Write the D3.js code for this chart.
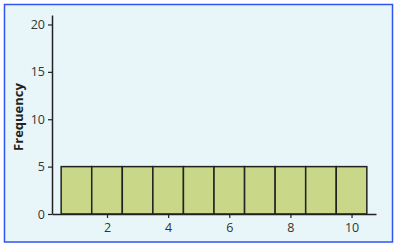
<!DOCTYPE html>
<html>
<head>
<meta charset="utf-8">
<script src="https://cdn.jsdelivr.net/npm/d3@7"></script>
<style>
  body { margin: 0; background: #fff; }
  svg text { font-family: "Open Sans", "DejaVu Sans", sans-serif; }
</style>
</head>
<body>
<div id="chart"></div>
<script>
(function () {
    const width = 400;
    const height = 251;

    // Data: histogram bins (value centres) and their counts
    const binCentres = [1, 2, 3, 4, 5, 6, 7, 8, 9, 10];
    const counts = [5, 5, 5, 5, 5, 5, 5, 5, 5, 5];
    const xTicks = [2, 4, 6, 8, 10];
    const yTicks = [0, 5, 10, 15, 20];

    const svg = d3.select("#chart")
        .append("svg")
        .attr("width", width)
        .attr("height", height);

    // Panel background with blue frame
    svg.append("rect")
        .attr("x", 4.5)
        .attr("y", 4.5)
        .attr("width", 388)
        .attr("height", 237.5)
        .style("fill", "#e8f6f9")
        .style("stroke", "#2f55f0")
        .style("stroke-width", 1.5);

    // Scales
    const x = d3.scaleLinear().domain([0.2, 10.8]).range([52, 376]);
    const y = d3.scaleLinear().domain([0, 21]).range([214, 15]);

    // Bars
    svg.append("g")
        .selectAll("rect")
        .data(binCentres.map((c, i) => ({ c, v: counts[i] })))
        .enter()
        .append("rect")
        .attr("x", d => x(d.c - 0.5))
        .attr("y", d => y(d.v))
        .attr("width", d => x(d.c + 0.5) - x(d.c - 0.5))
        .attr("height", d => y(0) - y(d.v))
        .style("fill", "#c8d888")
        .style("stroke", "#222")
        .style("stroke-width", 1.5);

    // Axes
    const xAxis = svg.append("g")
        .attr("transform", `translate(0,${y(0)})`)
        .call(d3.axisBottom(x).tickValues(xTicks).tickSize(4).tickSizeOuter(0).tickPadding(5));
    const yAxis = svg.append("g")
        .attr("transform", `translate(${x(0.2)},0)`)
        .call(d3.axisLeft(y).tickValues(yTicks).tickSize(4).tickSizeOuter(0).tickPadding(3));

    [xAxis, yAxis].forEach(a => {
        a.select(".domain").style("stroke", "#222").style("stroke-width", 1.5);
        a.selectAll(".tick line").style("stroke", "#222").style("stroke-width", 1.2);
        a.selectAll(".tick text")
            .style("font-size", "12.5px")
            .style("fill", "#333");
    });

    // Y axis title
    svg.append("text")
        .attr("transform", "translate(23,117) rotate(-90)")
        .attr("text-anchor", "middle")
        .style("font-size", "13px")
        .style("font-weight", "bold")
        .style("fill", "#222")
        .text("Frequency");
})();
</script>
</body>
</html>
